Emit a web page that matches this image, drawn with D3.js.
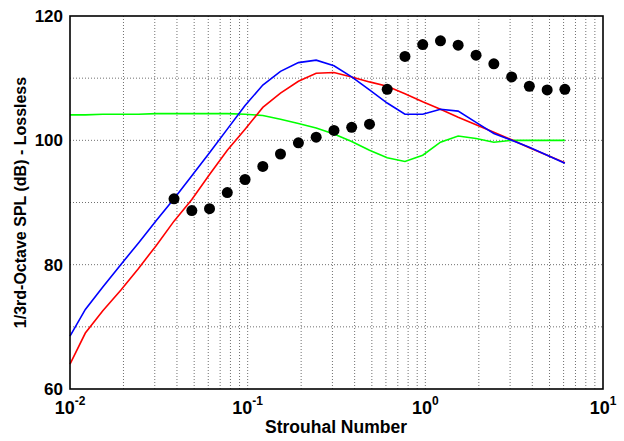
<!DOCTYPE html>
<html>
<head>
<meta charset="utf-8">
<script src="https://cdn.jsdelivr.net/npm/d3@7"></script>
<style>
  body { margin: 0; background: #fff; }
  text { font-family: "Liberation Sans", Arial, Helvetica, sans-serif; font-weight: bold; }
</style>
</head>
<body>
<div id="chart"></div>
<script>
// Strouhal numbers (1/3-octave bands) used by the lines
var st = [0.01, 0.0122, 0.0153, 0.0193, 0.0243, 0.0306, 0.0385, 0.0485, 0.061, 0.0768,
          0.0967, 0.1217, 0.153, 0.193, 0.243, 0.306, 0.385, 0.485, 0.61, 0.768,
          0.967, 1.217, 1.53, 1.93, 2.43, 3.06, 3.85, 4.85, 6.1];

// predictions (dB)
var blue = [68.5, 72.8, 76.4, 80.0, 83.5, 87.1, 90.6, 94.3, 98.0, 101.8,
            105.6, 108.9, 111.1, 112.5, 112.9, 112.0, 110.2, 108.1, 106.0, 104.2,
            104.2, 105.0, 104.7, 102.9, 101.1, 100.0, 98.9, 97.6, 96.3];
var red = [64.0, 69.0, 72.6, 75.9, 79.4, 83.1, 87.0, 90.5, 94.5, 98.4,
           101.8, 105.3, 107.6, 109.5, 110.8, 110.9, 110.2, 109.4, 108.7, 107.5,
           106.2, 105.0, 103.7, 102.5, 101.3, 100.1, 98.8, 97.6, 96.4];
var green = [104.1, 104.1, 104.2, 104.2, 104.2, 104.3, 104.3, 104.3, 104.3, 104.3,
             104.2, 104.0, 103.4, 102.7, 102.0, 101.0, 99.8, 98.4, 97.2, 96.6,
             97.6, 99.7, 100.7, 100.3, 99.7, 100.0, 100.0, 100.0, 100.0];

// measured data (dots)
var stData = [0.0385, 0.0485, 0.061, 0.0768, 0.0967, 0.1217, 0.153, 0.193, 0.243, 0.306,
              0.385, 0.485, 0.61, 0.768, 0.967, 1.217, 1.53, 1.93, 2.43, 3.06,
              3.85, 4.85, 6.1];
var splData = [90.6, 88.7, 89.0, 91.6, 93.7, 95.8, 97.8, 99.6, 100.5, 101.6,
               102.1, 102.6, 108.2, 113.5, 115.4, 116.0, 115.3, 113.7, 112.3, 110.2,
               108.7, 108.1, 108.2];

var xTicks = [0.01, 0.1, 1, 10];
var xTickExp = ["-2", "-1", "0", "1"];
var yTicks = [60, 80, 100, 120];

var width = 624, height = 441;
var mLeft = 70, mRight = 603, mTop = 16, mBottom = 389;

var svg = d3.select("#chart").append("svg")
    .attr("width", width)
    .attr("height", height);

var x = d3.scaleLog().domain([0.01, 10]).range([mLeft, mRight]);
var y = d3.scaleLinear().domain([60, 120]).range([mBottom, mTop]);

// grid
var grid = svg.append("g")
    .attr("stroke", "#000")
    .attr("stroke-width", 0.8)
    .attr("stroke-dasharray", "1,2")
    .attr("opacity", 0.7);

var xGrid = x.ticks().filter(function (d) { return d > 0.01 && d < 10; });
grid.selectAll("line.xg")
    .data(xGrid)
    .enter().append("line")
    .attr("x1", d => x(d)).attr("x2", d => x(d))
    .attr("y1", mTop).attr("y2", mBottom);

grid.selectAll("line.yg")
    .data(d3.range(70, 120, 10))
    .enter().append("line")
    .attr("x1", mLeft).attr("x2", mRight)
    .attr("y1", d => y(d)).attr("y2", d => y(d));

// lines
var line = d3.line()
    .x(function (d, i) { return x(st[i]); })
    .y(function (d) { return y(d); });

[[green, "#00ff00"], [red, "#ff0000"], [blue, "#0000ff"]].forEach(function (s) {
    svg.append("path")
        .datum(s[0])
        .attr("fill", "none")
        .attr("stroke", s[1])
        .attr("stroke-width", 1.6)
        .attr("d", line);
});

// dots
svg.selectAll("circle")
    .data(splData)
    .enter().append("circle")
    .attr("cx", (d, i) => x(stData[i]))
    .attr("cy", d => y(d))
    .attr("r", 5.5)
    .attr("fill", "#000");

// frame
svg.append("rect")
    .attr("x", mLeft).attr("y", mTop)
    .attr("width", mRight - mLeft).attr("height", mBottom - mTop)
    .attr("fill", "none")
    .attr("stroke", "#000")
    .attr("stroke-width", 1.6);

// y tick labels
svg.selectAll("text.ytick")
    .data(yTicks)
    .enter().append("text")
    .attr("x", mLeft - 7)
    .attr("y", d => y(d) + 6)
    .attr("text-anchor", "end")
    .attr("font-size", 17)
    .text(d => d);

// x tick labels 10^n
var xl = svg.selectAll("text.xtick")
    .data(xTicks)
    .enter().append("text")
    .attr("x", d => x(d))
    .attr("y", 414)
    .attr("text-anchor", "middle")
    .attr("font-size", 18);
xl.append("tspan").text("10");
xl.append("tspan")
    .attr("font-size", 12)
    .attr("dy", -9)
    .text((d, i) => xTickExp[i]);

// axis titles
svg.append("text")
    .attr("x", 336)
    .attr("y", 433)
    .attr("text-anchor", "middle")
    .attr("font-size", 17.5)
    .text("Strouhal Number");

svg.append("text")
    .attr("transform", "translate(26," + ((mTop + mBottom) / 2) + ") rotate(-90)")
    .attr("text-anchor", "middle")
    .attr("font-size", 16)
    .text("1/3rd-Octave SPL (dB) - Lossless");
</script>
</body>
</html>
